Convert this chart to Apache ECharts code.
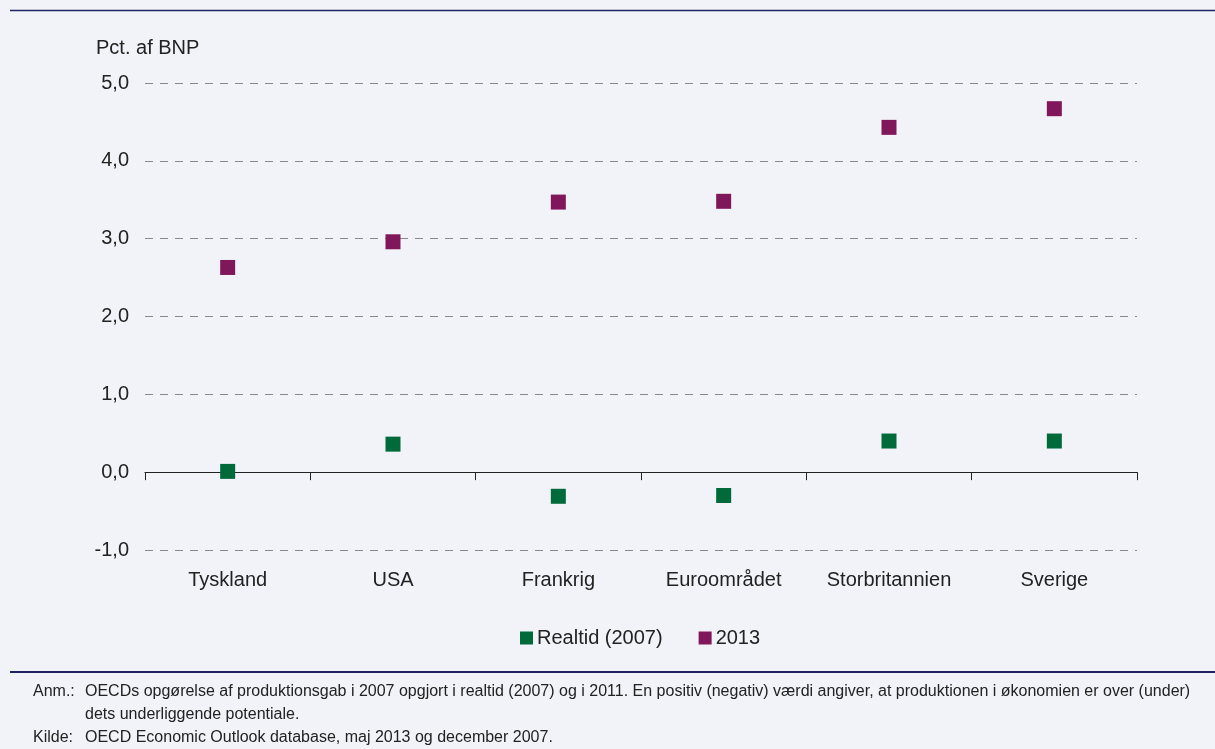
<!DOCTYPE html>
<html>
<head>
<meta charset="utf-8">
<script src="https://cdn.jsdelivr.net/npm/echarts@6/dist/echarts.min.js"></script>
<style>
  html, body { margin: 0; padding: 0; background: #f2f3f8; }
  #chart { width: 1215px; height: 749px; }
</style>
</head>
<body>
<div id="chart"></div>
<script>
// data
var categories = ['Tyskland', 'USA', 'Frankrig', 'Euroområdet', 'Storbritannien', 'Sverige']
var realtid2007 = [0.01, 0.36, -0.31, -0.30, 0.40, 0.40]
var values2013 = [2.63, 2.96, 3.47, 3.48, 4.43, 4.67]
var seriesNames = ['Realtid (2007)', '2013']

var chart = echarts.init(document.getElementById('chart'))
var font = 'Liberation Sans, Arial, sans-serif'

chart.setOption({
  backgroundColor: '#f2f3f8',
  animation: false,
  textStyle: { fontFamily: font },
  grid: {
    left: 145,
    right: 78,
    top: 83,
    bottom: 199
  },
  legend: {
    data: seriesNames,
    top: 623,
    left: 515,
    itemWidth: 13,
    itemHeight: 13,
    itemGap: 36,
    icon: 'rect',
    textStyle: { fontSize: 20, color: '#222', fontFamily: font, padding: [0, 0, 0, -1] }
  },
  xAxis: {
    type: 'category',
    data: categories,
    axisLine: { onZero: true, lineStyle: { color: '#222', width: 1.2 } },
    axisTick: { show: true, length: 8, lineStyle: { color: '#222' } },
    axisLabel: {
      fontSize: 20,
      color: '#222',
      margin: 20
    }
  },
  yAxis: {
    type: 'value',
    min: -1,
    max: 5,
    interval: 1,
    name: 'Pct. af BNP',
    nameLocation: 'end',
    nameGap: 25,
    nameTextStyle: { fontSize: 20, color: '#222', align: 'left', padding: [0, 0, 0, -49] },
    axisLine: { show: false },
    axisTick: { show: false },
    axisLabel: {
      fontSize: 20,
      color: '#222',
      margin: 16,
      formatter: function (v) { return v.toFixed(1).replace('.', ',') }
    },
    splitLine: {
      show: true,
      lineStyle: { type: [8, 7], color: '#888', width: 1 }
    }
  },
  series: [
    {
      name: seriesNames[0],
      type: 'scatter',
      data: realtid2007,
      symbol: 'rect',
      symbolSize: 15,
      itemStyle: { color: '#006a3a', opacity: 1 }
    },
    {
      name: seriesNames[1],
      type: 'scatter',
      data: values2013,
      symbol: 'rect',
      symbolSize: 15,
      itemStyle: { color: '#80175a', opacity: 1 }
    }
  ],
  graphic: [
    { type: 'line', shape: { x1: 10, y1: 10.5, x2: 1215, y2: 10.5 }, style: { stroke: '#1f2260', lineWidth: 1.5 } },
    { type: 'line', shape: { x1: 10, y1: 672, x2: 1215, y2: 672 }, style: { stroke: '#1f2260', lineWidth: 2 } },
    { type: 'text', left: 33, top: 680, style: { text: 'Anm.:', fontSize: 16, lineHeight: 23, fill: '#222', fontFamily: font } },
    { type: 'text', left: 85, top: 680, style: { text: 'OECDs opgørelse af produktionsgab i 2007 opgjort i realtid (2007) og i 2011. En positiv (negativ) værdi angiver, at produktionen i økonomien er over (under)\ndets underliggende potentiale.', fontSize: 16, lineHeight: 23, fill: '#222', fontFamily: font } },
    { type: 'text', left: 33, top: 726, style: { text: 'Kilde:', fontSize: 16, lineHeight: 23, fill: '#222', fontFamily: font } },
    { type: 'text', left: 85, top: 726, style: { text: 'OECD Economic Outlook database, maj 2013 og december 2007.', fontSize: 16, lineHeight: 23, fill: '#222', fontFamily: font } }
  ]
})
</script>
</body>
</html>
